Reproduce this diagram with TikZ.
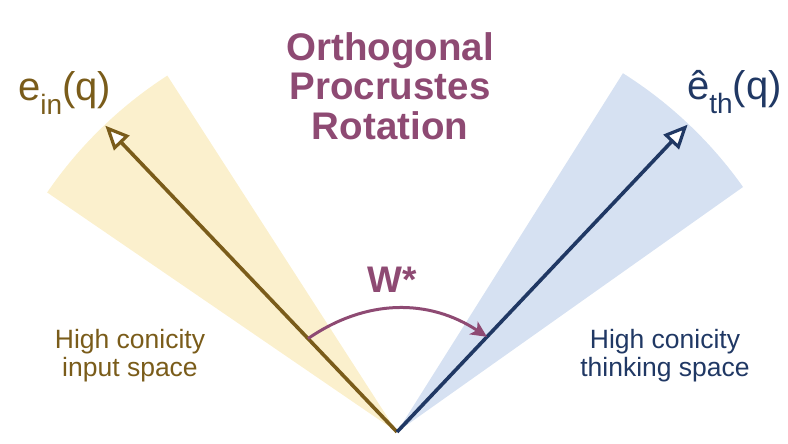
\documentclass[tikz,border=0pt]{standalone}
\usepackage{fontspec}
\setmainfont{Liberation Sans}
\usetikzlibrary{arrows.meta,calc}

\definecolor{goldink}{HTML}{7A5C1A}
\definecolor{navyink}{HTML}{203864}
\definecolor{plum}{HTML}{8E4A73}
\definecolor{goldcone}{HTML}{FBF0CD}
\definecolor{bluecone}{HTML}{D6E1F2}

\tikzset{
  cone/.style={draw=none},
  vec/.style={line width=3.6pt,
    -{Triangle[open,length=24pt,width=21pt,fill=white,line width=3.2pt]}},
  rot/.style={line width=3pt, draw=plum,
    -{Stealth[length=16pt,width=15pt,inset=4pt]}},
  title/.style={text=plum, font=\bfseries\fontsize{38.5}{39.5}\selectfont, align=center},
  veclabel/.style={font=\fontsize{40}{40}\selectfont, anchor=base west, inner sep=0pt},
  spacelabel/.style={font=\fontsize{26.5}{28}\selectfont, align=center, inner sep=0pt}
}

\begin{document}
\begin{tikzpicture}[x=1pt,y=1pt]
  \useasboundingbox (0,0) rectangle (788,444);

  % common origin of both cones
  \coordinate (O) at (397,12);

  % the two cones
  \fill[goldcone, cone] (O) -- ($(O)+(122.8:424)$) arc[start angle=122.8, end angle=145.6, radius=424] -- cycle;
  \fill[bluecone, cone] (O) -- ($(O)+(35.3:424)$) arc[start angle=35.3, end angle=57.8, radius=424] -- cycle;

  % vector tips and the points joined by the rotation
  \coordinate (ein) at ($(O)+(133.6:423)$);
  \coordinate (eth) at ($(O)+(46.6:423)$);
  \coordinate (rs) at ($(O)+(133.6:129)$);
  \coordinate (re) at ($(O)+(46.6:131)$);

  \draw[vec, draw=goldink] (O) -- (ein);
  \draw[vec, draw=navyink] (O) -- (eth);

  % rotation W*
  \draw[rot] (rs) to[bend left=34] (re);
  \node[text=plum, font=\bfseries\fontsize{37}{37}\selectfont, anchor=base, inner sep=0pt] (w) at (392,151) {W*};

  % title
  \node[title] (t) at (390,358) {Orthogonal\\Procrustes\\Rotation};

  % vector labels
  \node[veclabel, text=goldink] (lin) at (18,343)
    {e\raisebox{-14pt}{\fontsize{28}{28}\selectfont in}(q)};
  \node[veclabel, text=navyink] (lth) at (687,344)
    {ê\raisebox{-14pt}{\fontsize{28}{28}\selectfont th}(q)};

  % space captions
  \node[spacelabel, text=goldink] (sin) at (130,88) {High conicity\\input space};
  \node[spacelabel, text=navyink] (sth) at (665,88) {High conicity\\thinking space};
\end{tikzpicture}
\end{document}
